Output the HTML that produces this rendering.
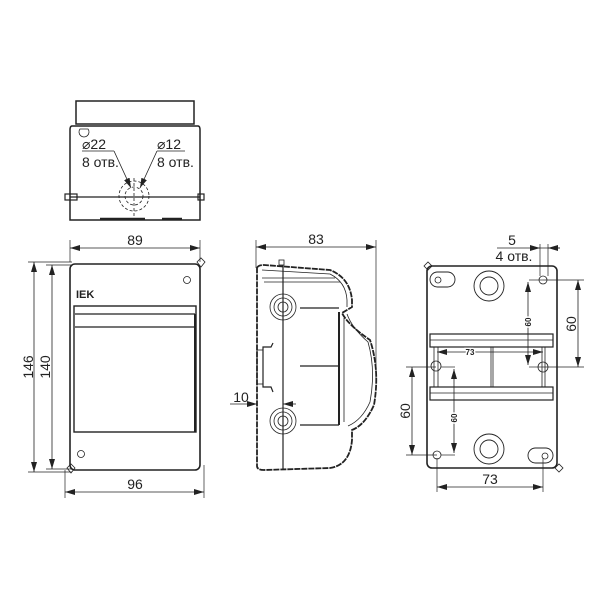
<!DOCTYPE html>
<html><head><meta charset="utf-8"><style>
html,body{margin:0;padding:0;background:#fff}
svg{display:block}
text{font-family:"Liberation Sans","DejaVu Sans",sans-serif;fill:#222}
</style></head><body>
<svg width="600" height="600" viewBox="0 0 600 600" xmlns="http://www.w3.org/2000/svg">
<defs>
<marker id="a" viewBox="0 0 10 6" refX="10" refY="3" markerWidth="10" markerHeight="6" orient="auto-start-reverse" markerUnits="userSpaceOnUse"><path d="M0,0 L10,3 L0,6 Z" fill="#222"/></marker>
</defs>
<g stroke="#222" fill="none" stroke-width="1.2">
<!-- TOP VIEW -->
<rect x="76" y="101" width="118" height="23" stroke-width="1.5"/>
<path d="M72,126 H198 Q200,126 200,130 V220 H70 V130 Q70,126 72,126 Z" stroke-width="1.5"/>
<path d="M80,129 a5,5 0 1 0 8,0 Z" stroke-width="0.8"/>
<line x1="70" y1="197" x2="200" y2="197"/>
<rect x="65" y="194" width="12" height="6"/>
<rect x="198" y="194" width="6" height="6"/>
<circle cx="134" cy="196" r="15" stroke-dasharray="3,2" stroke-width="0.8"/>
<circle cx="134" cy="196" r="9" stroke-dasharray="3,2" stroke-width="0.8"/>
<line x1="134" y1="178" x2="134" y2="216" stroke-dasharray="3,2" stroke-width="0.8"/>
<line x1="82" y1="151" x2="114" y2="151" stroke-width="0.8"/>
<line x1="157" y1="151" x2="185" y2="151" stroke-width="0.8"/>
<line x1="114" y1="151" x2="131" y2="188" stroke-width="0.8" marker-end="url(#a)"/>
<line x1="157" y1="151" x2="140" y2="188" stroke-width="0.8" marker-end="url(#a)"/>
<line x1="100" y1="219" x2="145" y2="219" stroke-width="2.5"/>
<line x1="162" y1="219" x2="182" y2="219" stroke-width="2.5"/>
<!-- 89 dim -->
<line x1="70" y1="240" x2="70" y2="262" stroke-width="0.7"/>
<line x1="200" y1="240" x2="200" y2="262" stroke-width="0.7"/>
<line x1="70" y1="248" x2="200" y2="248" stroke-width="0.8" marker-start="url(#a)" marker-end="url(#a)"/>

<!-- FRONT VIEW -->
<rect x="70" y="264" width="130" height="206" rx="5" stroke-width="1.6"/>
<path d="M197,262 l4,-4 l4,4 l-4,5 Z" stroke-width="0.8"/>
<path d="M67,468 l4,-4 l4,4 l-4,5 Z" stroke-width="0.8"/>
<circle cx="187" cy="280" r="3.5" stroke-width="0.8"/>
<circle cx="81" cy="454" r="3.5" stroke-width="0.8"/>
<rect x="74" y="306" width="122" height="126" stroke-width="1.4"/>
<line x1="75" y1="314" x2="195" y2="314"/>
<line x1="75" y1="327" x2="195" y2="327"/>
<line x1="195" y1="314" x2="195" y2="432" stroke-width="2"/>
<!-- 146/140 dims -->
<line x1="28" y1="262" x2="72" y2="262" stroke-width="0.7"/>
<line x1="28" y1="472" x2="72" y2="472" stroke-width="0.7"/>
<line x1="46" y1="265" x2="72" y2="265" stroke-width="0.7"/>
<line x1="46" y1="469" x2="72" y2="469" stroke-width="0.7"/>
<line x1="34" y1="262" x2="34" y2="472" stroke-width="0.8" marker-start="url(#a)" marker-end="url(#a)"/>
<line x1="52" y1="265" x2="52" y2="469" stroke-width="0.8" marker-start="url(#a)" marker-end="url(#a)"/>
<!-- 96 -->
<line x1="65" y1="470" x2="65" y2="498" stroke-width="0.7"/>
<line x1="204" y1="465" x2="204" y2="498" stroke-width="0.7"/>
<line x1="65" y1="492" x2="204" y2="492" stroke-width="0.8" marker-start="url(#a)" marker-end="url(#a)"/>

<!-- SIDE VIEW -->
<line x1="256" y1="240" x2="256" y2="268" stroke-width="0.7"/>
<line x1="376" y1="240" x2="376" y2="380" stroke-width="0.7"/>
<line x1="256" y1="247" x2="376" y2="247" stroke-width="0.8" marker-start="url(#a)" marker-end="url(#a)"/>
<path d="M257,268 Q258,265 264,265 L330,270 Q350,278 352,300 L352,307 L342,313 Q348,325 370,340 Q380,370 374,405 Q365,425 352,430 L352,440 Q350,465 330,468 L264,470 Q257,470 257,466 Z" stroke-width="1.8" stroke-dasharray="6,1"/>
<path d="M262,270 L330,274 Q346,282 347,300 L347,307" stroke-width="0.8"/>
<path d="M347,314 Q352,328 368,342 Q376,370 370,402 Q362,420 348,426" stroke-width="0.8"/>
<line x1="283" y1="265" x2="283" y2="470"/>
<line x1="264" y1="282" x2="340" y2="282" stroke-width="0.8"/>
<line x1="262" y1="278" x2="335" y2="278" stroke-width="0.8"/>
<rect x="279" y="260" width="5" height="5" stroke-width="0.8"/>
<line x1="339" y1="312" x2="339" y2="425" stroke-width="2"/>
<line x1="344" y1="318" x2="344" y2="422" stroke-width="0.8"/>
<line x1="300" y1="308" x2="339" y2="308"/>
<line x1="300" y1="366" x2="339" y2="366"/>
<line x1="300" y1="425" x2="339" y2="425"/>
<circle cx="283" cy="307" r="13" stroke-width="0.8"/>
<circle cx="283" cy="307" r="9" stroke-width="0.8"/>
<circle cx="283" cy="307" r="5" stroke-width="0.8"/>
<circle cx="283" cy="421" r="13" stroke-width="0.8"/>
<circle cx="283" cy="421" r="9" stroke-width="0.8"/>
<circle cx="283" cy="421" r="5" stroke-width="0.8"/>
<path d="M273,343 L271,347 L263,347 L263,387 L271,387 L273,392" stroke-width="1.2"/>
<rect x="257" y="350" width="6" height="34" stroke-width="0.8"/>
<line x1="230" y1="404" x2="257" y2="404" stroke-width="0.8" marker-end="url(#a)"/>
<line x1="296" y1="404" x2="283" y2="404" stroke-width="0.8" marker-end="url(#a)"/>

<!-- REAR VIEW -->
<rect x="427" y="266" width="130" height="202" rx="5" stroke-width="1.6"/>
<path d="M424,266 l4,-4 l4,4 l-4,4 Z" stroke-width="0.8"/>
<path d="M555,468 l4,-4 l4,4 l-4,4 Z" stroke-width="0.8"/>
<circle cx="489" cy="286" r="15" stroke-width="0.9"/>
<circle cx="489" cy="286" r="9" stroke-width="0.9"/>
<circle cx="489" cy="449" r="15" stroke-width="0.9"/>
<circle cx="489" cy="449" r="9" stroke-width="0.9"/>
<rect x="430" y="272" width="25" height="15" rx="7.5" stroke-width="0.9"/>
<circle cx="438" cy="280" r="3" stroke-width="0.8"/>
<rect x="528" y="448" width="25" height="15" rx="7.5" stroke-width="0.9"/>
<circle cx="545" cy="456" r="3" stroke-width="0.8"/>
<circle cx="543" cy="280" r="4" stroke-width="0.8"/>
<circle cx="437" cy="455" r="4" stroke-width="0.8"/>
<circle cx="436" cy="366" r="5" stroke-width="0.8"/>
<circle cx="543" cy="367" r="5" stroke-width="0.8"/>
<rect x="430" y="334" width="123" height="13" stroke-width="1.2"/>
<line x1="430" y1="340" x2="553" y2="340" stroke-width="0.8"/>
<rect x="430" y="387" width="123" height="13" stroke-width="1.2"/>
<line x1="430" y1="393" x2="553" y2="393" stroke-width="0.8"/>
<line x1="434" y1="347" x2="434" y2="387" stroke-width="0.8"/>
<line x1="438" y1="347" x2="438" y2="387" stroke-width="0.8"/>
<line x1="491" y1="347" x2="491" y2="387" stroke-width="0.8"/>
<line x1="493" y1="347" x2="493" y2="387" stroke-width="0.8"/>
<line x1="542" y1="347" x2="542" y2="387" stroke-width="0.8"/>
<line x1="545" y1="347" x2="545" y2="387" stroke-width="0.8"/>
<!-- 5 dim -->
<line x1="497" y1="248" x2="560" y2="248" stroke-width="0.8"/>
<line x1="540" y1="244" x2="540" y2="276" stroke-width="0.7"/>
<line x1="548" y1="244" x2="548" y2="276" stroke-width="0.7"/>
<line x1="530" y1="248" x2="540" y2="248" stroke-width="0.8" marker-end="url(#a)"/>
<line x1="560" y1="248" x2="548" y2="248" stroke-width="0.8" marker-end="url(#a)"/>
<!-- right 60 -->
<line x1="543" y1="280" x2="584" y2="280" stroke-width="0.7"/>
<line x1="543" y1="367" x2="584" y2="367" stroke-width="0.7"/>
<line x1="578" y1="280" x2="578" y2="367" stroke-width="0.8" marker-start="url(#a)" marker-end="url(#a)"/>
<!-- inner 60 right -->
<line x1="529" y1="280" x2="543" y2="280" stroke-width="0.7"/>
<line x1="529" y1="367" x2="543" y2="367" stroke-width="0.7"/>
<line x1="528" y1="282" x2="528" y2="365" stroke-width="0.8" marker-start="url(#a)" marker-end="url(#a)"/>
<!-- inner 73 -->
<line x1="437" y1="352" x2="543" y2="352" stroke-width="0.8" marker-start="url(#a)" marker-end="url(#a)"/>
<!-- left 60 -->
<line x1="406" y1="367" x2="436" y2="367" stroke-width="0.7"/>
<line x1="406" y1="455" x2="437" y2="455" stroke-width="0.7"/>
<line x1="412" y1="367" x2="412" y2="455" stroke-width="0.8" marker-start="url(#a)" marker-end="url(#a)"/>
<line x1="441" y1="367" x2="455" y2="367" stroke-width="0.7"/>
<line x1="441" y1="455" x2="455" y2="455" stroke-width="0.7"/>
<line x1="454" y1="369" x2="454" y2="453" stroke-width="0.8" marker-start="url(#a)" marker-end="url(#a)"/>
<!-- bottom 73 -->
<line x1="437" y1="458" x2="437" y2="492" stroke-width="0.7"/>
<line x1="543" y1="458" x2="543" y2="492" stroke-width="0.7"/>
<line x1="437" y1="487" x2="543" y2="487" stroke-width="0.8" marker-start="url(#a)" marker-end="url(#a)"/>
</g>
<!-- texts -->
<g font-size="14">
<text x="82" y="149">⌀22</text>
<text x="82" y="167">8 отв.</text>
<text x="157" y="149">⌀12</text>
<text x="157" y="167">8 отв.</text>
<text x="135" y="245" text-anchor="middle">89</text>
<text x="135" y="489" text-anchor="middle">96</text>
<text x="316" y="244" text-anchor="middle">83</text>
<text x="241" y="402" text-anchor="middle">10</text>
<text x="512" y="245" text-anchor="middle">5</text>
<text x="514" y="261" text-anchor="middle">4 отв.</text>
<text x="490" y="484" text-anchor="middle">73</text>
<text transform="translate(33,367) rotate(-90)" text-anchor="middle">146</text>
<text transform="translate(50,367) rotate(-90)" text-anchor="middle">140</text>
<text transform="translate(576,324) rotate(-90)" text-anchor="middle">60</text>
<text transform="translate(410,411) rotate(-90)" text-anchor="middle">60</text>
</g>
<g font-size="8" font-weight="bold">
<text x="470" y="355" text-anchor="middle" style="fill:#222" stroke="#fff" stroke-width="3" paint-order="stroke">73</text>
<text transform="translate(531,322) rotate(-90)" text-anchor="middle" stroke="#fff" stroke-width="3" paint-order="stroke">60</text>
<text transform="translate(457,418) rotate(-90)" text-anchor="middle" stroke="#fff" stroke-width="3" paint-order="stroke">60</text>
</g>
<text x="76" y="298" font-size="11" font-weight="bold">IEK</text>
</svg>
</body></html>
